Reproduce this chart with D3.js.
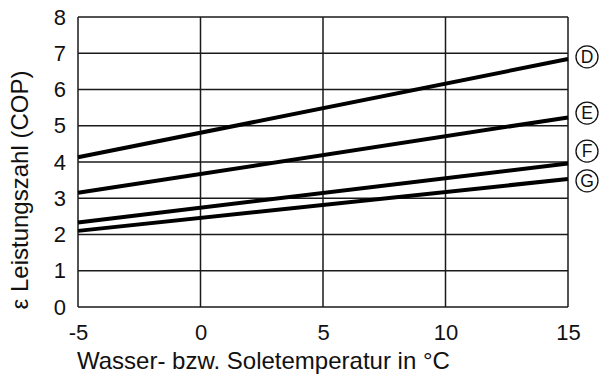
<!DOCTYPE html>
<html>
<head>
<meta charset="utf-8">
<script src="https://cdn.jsdelivr.net/npm/d3@7"></script>
<style>
  html, body { margin: 0; padding: 0; background: #fff; }
  svg { display: block; font-family: "Liberation Sans", Arial, sans-serif; }
</style>
</head>
<body>
<svg id="chart" width="604" height="379"></svg>
<script>
// Water / brine temperature (°C) at the two ends of each line
const temps = [-5, 15];
// COP curves for the four device variants
const seriesNames = ["D", "E", "F", "G"];
const copD = [4.13, 6.84];
const copE = [3.15, 5.23];
const copF = [2.33, 3.96];
const copG = [2.10, 3.53];
// Where each circled marker sits on the COP scale (nudged apart so F and G don't overlap)
const markerPos = [6.9, 5.35, 4.3, 3.48];

const xTicks = [-5, 0, 5, 10, 15];
const yTicks = [0, 1, 2, 3, 4, 5, 6, 7, 8];
const xTitle = "Wasser- bzw. Soletemperatur in °C";
const yTitle = "ε Leistungszahl (COP)";

const series = [copD, copE, copF, copG];

const svg = d3.select("#chart");
const plotL = 78, plotR = 568, plotT = 17, plotB = 307;
const font = "Liberation Sans, Arial, sans-serif";

const x = d3.scaleLinear().domain([-5, 15]).range([plotL, plotR]);
const y = d3.scaleLinear().domain([0, 8]).range([plotB, plotT]);

// grid
const g = svg.append("g");
g.selectAll(".vgrid").data(xTicks).join("line")
  .attr("x1", d => x(d)).attr("x2", d => x(d))
  .attr("y1", plotT).attr("y2", plotB)
  .attr("stroke", "#1a1a1a").attr("stroke-width", 1.5);
g.selectAll(".hgrid").data(yTicks).join("line")
  .attr("x1", plotL).attr("x2", plotR)
  .attr("y1", d => y(d)).attr("y2", d => y(d))
  .attr("stroke", "#1a1a1a").attr("stroke-width", 1.5);

// axes (labels only, plain hyphen for negatives)
const xAxis = d3.axisBottom(x).tickValues(xTicks).tickSize(0).tickPadding(17)
  .tickFormat(d => String(d));
svg.append("g").attr("transform", `translate(0,${plotB})`).call(xAxis)
  .call(s => s.select(".domain").remove())
  .selectAll("text").attr("font-size", 22).attr("fill", "#111")
  .attr("font-family", font);

const yAxis = d3.axisLeft(y).tickValues(yTicks).tickSize(0).tickPadding(12)
  .tickFormat(d => String(d));
svg.append("g").attr("transform", `translate(${plotL},0)`).call(yAxis)
  .call(s => s.select(".domain").remove())
  .selectAll("text").attr("font-size", 22).attr("fill", "#111")
  .attr("font-family", font);

// COP lines
const line = d3.line().x((d, i) => x(temps[i])).y(d => y(d));
svg.selectAll(".cop").data(series).join("path")
  .attr("d", d => line(d))
  .attr("fill", "none").attr("stroke", "#000").attr("stroke-width", 4);

// circled markers
const mk = svg.selectAll(".mk").data(seriesNames).join("g")
  .attr("transform", (d, i) => `translate(${plotR + 19},${y(markerPos[i])})`);
mk.append("circle").attr("r", 11).attr("fill", "#fff")
  .attr("stroke", "#111").attr("stroke-width", 1.3);
mk.append("text").text(d => d)
  .attr("text-anchor", "middle").attr("dy", "0.36em")
  .attr("font-size", 17.5).attr("fill", "#111").attr("font-family", font);

// axis titles
svg.append("text").text(xTitle)
  .attr("x", 77).attr("y", 369)
  .attr("font-size", 24).attr("fill", "#111").attr("font-family", font);
svg.append("text").text(yTitle)
  .attr("transform", `translate(28,190) rotate(-90)`)
  .attr("text-anchor", "middle")
  .attr("font-size", 24).attr("fill", "#111").attr("font-family", font);
</script>
</body>
</html>
